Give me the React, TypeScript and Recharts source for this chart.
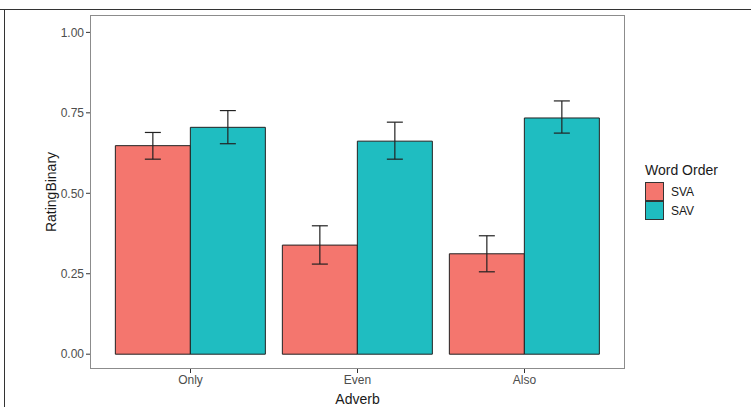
import React from "react";
import { BarChart, Bar, XAxis, YAxis, ErrorBar, Label } from "recharts";

// values
const adverbs = ["Only", "Even", "Also"];
const svaMean = [0.648, 0.339, 0.312];
const svaLow = [0.606, 0.28, 0.256];
const svaHigh = [0.689, 0.399, 0.368];
const savMean = [0.705, 0.662, 0.734];
const savLow = [0.654, 0.606, 0.687];
const savHigh = [0.757, 0.721, 0.787];
const yTicks = [0, 0.25, 0.5, 0.75, 1];

const SVA_COLOR = "#F4766E";
const SAV_COLOR = "#1FBDC1";
const FONT = "'Liberation Sans', Arial, sans-serif";

const data = adverbs.map((a, i) => ({
    adverb: a,
    SVA: svaMean[i],
    SAV: savMean[i],
    svaErr: [svaMean[i] - svaLow[i], svaHigh[i] - svaMean[i]],
    savErr: [savMean[i] - savLow[i], savHigh[i] - savMean[i]],
}));

function WordOrderLegend() {
    const items = [
        { name: "SVA", color: SVA_COLOR },
        { name: "SAV", color: SAV_COLOR },
    ];
    return (
        <div style={{ position: "absolute", left: 645, top: 162, fontFamily: FONT, color: "#1a1a1a" }}>
            <div style={{ fontSize: 14, marginBottom: 4 }}>Word Order</div>
            {items.map((it) => (
                <div key={it.name} style={{ display: "flex", alignItems: "center", height: 19 }}>
                    <div
                        style={{
                            width: 17,
                            height: 17,
                            background: it.color,
                            border: "1px solid #333",
                            marginRight: 7,
                        }}
                    />
                    <span style={{ fontSize: 12 }}>{it.name}</span>
                </div>
            ))}
        </div>
    );
}

export default function App() {
    return (
        <div style={{ position: "absolute", left: 0, top: 0, width: 751, height: 407, background: "#fff" }}>
            {/* edges of the original image frame */}
            <div style={{ position: "absolute", left: 0, top: 9, width: 751, height: 0, borderTop: "1px solid #333" }} />
            <div style={{ position: "absolute", left: 4, top: 9, width: 0, height: 398, borderLeft: "1px solid #333" }} />
            {/* panel border */}
            <div
                style={{
                    position: "absolute",
                    left: 90,
                    top: 15,
                    width: 535,
                    height: 354,
                    border: "1px solid #8c8c8c",
                    boxSizing: "border-box",
                    pointerEvents: "none",
                    zIndex: 1,
                }}
            />
            <WordOrderLegend />
            <BarChart
                width={751}
                height={407}
                data={data}
                margin={{ top: 15, right: 126, bottom: 8, left: 0 }}
                barCategoryGap="5%"
                barGap={0}
            >
                <XAxis
                    dataKey="adverb"
                    height={30}
                    padding={{ left: 17, right: 17 }}
                    axisLine={false}
                    tickLine={{ stroke: "#333" }}
                    tickSize={4}
                    tick={{ fontSize: 12, fill: "#4d4d4d", fontFamily: FONT }}
                >
                    <Label value="Adverb" position="insideBottom" offset={-5} style={{ fontSize: 14, fill: "#1a1a1a", fontFamily: FONT }} />
                </XAxis>
                <YAxis
                    width={90}
                    domain={[-0.046, 1.054]}
                    ticks={yTicks}
                    allowDataOverflow
                    axisLine={false}
                    tickLine={{ stroke: "#333" }}
                    tickSize={4}
                    tickFormatter={(v: number) => v.toFixed(2)}
                    tick={{ fontSize: 12, fill: "#4d4d4d", fontFamily: FONT }}
                >
                    <Label
                        value="RatingBinary"
                        angle={-90}
                        position="insideLeft"
                        offset={51}
                        style={{ fontSize: 14, fill: "#1a1a1a", fontFamily: FONT, textAnchor: "middle" }}
                    />
                </YAxis>
                <Bar dataKey="SVA" fill={SVA_COLOR} stroke="#222" strokeWidth={1} isAnimationActive={false}>
                    <ErrorBar dataKey="svaErr" width={8} stroke="#222" strokeWidth={1.2} isAnimationActive={false} />
                </Bar>
                <Bar dataKey="SAV" fill={SAV_COLOR} stroke="#222" strokeWidth={1} isAnimationActive={false}>
                    <ErrorBar dataKey="savErr" width={8} stroke="#222" strokeWidth={1.2} isAnimationActive={false} />
                </Bar>
            </BarChart>
        </div>
    );
}
